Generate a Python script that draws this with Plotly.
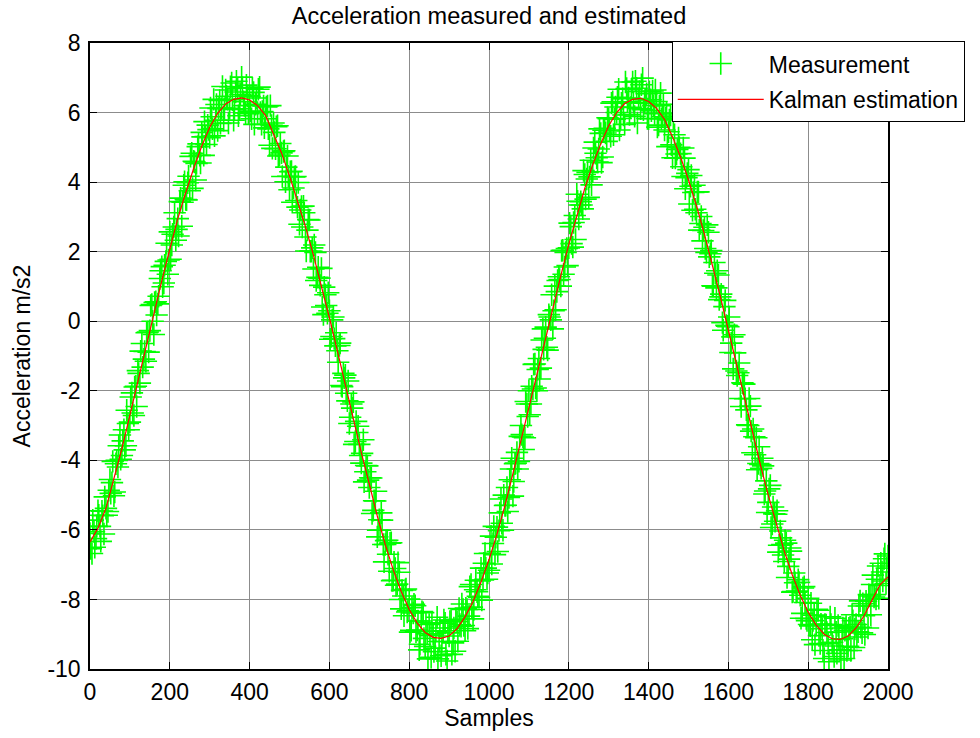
import plotly.graph_objects as go

# Kalman estimate, read every 20 samples
kal_x = list(range(0, 2001, 20))
kal_y = [
    -6.35, -5.95, -5.38, -4.52, -3.66, -2.70, -1.72, -0.75, 0.22, 1.17,
    2.07, 2.95, 3.70, 4.40, 5.03, 5.58, 5.98, 6.25, 6.38, 6.42,
    6.36, 6.20, 5.92, 5.40, 4.84, 4.18, 3.48, 2.72, 1.90, 1.02,
    0.10, -0.85, -1.85, -2.82, -3.78, -4.68, -5.60, -6.42, -7.15, -7.77,
    -8.29, -8.68, -8.95, -9.09, -9.12, -9.05, -8.84, -8.50, -8.06, -7.50,
    -6.86, -6.12, -5.30, -4.38, -3.42, -2.45, -1.50, -0.59, 0.38, 1.31,
    2.21, 3.05, 3.82, 4.50, 5.10, 5.62, 6.00, 6.26, 6.38, 6.41,
    6.32, 6.12, 5.80, 5.30, 4.72, 4.06, 3.32, 2.50, 1.62, 0.70,
    -0.26, -1.23, -2.21, -3.18, -4.12, -5.01, -5.85, -6.61, -7.29, -7.88,
    -8.37, -8.74, -9.00, -9.13, -9.15, -9.05, -8.82, -8.47, -8.02, -7.58,
    -7.35,
]

# Measurements, read at samples 0, 5, 10, ... 2000
meas_a_x = list(range(0, 2001, 5))
meas_a_y = [
    -6.10, -6.68, -6.05, -6.25, -5.45, -5.90, -5.46, -6.12, -5.38, -5.47, -4.55, -4.64, -5.02, -4.10, -4.19, -3.27, -3.86, -3.12, -3.58, -2.94,
    -2.90, -2.06, -2.71, -1.87, -1.42, -1.78, -0.64, -1.09, -1.15, -0.31, -0.27, 0.48, -0.38, 0.56, 0.50, 1.23, 1.57, 1.10, 1.72, 1.35,
    2.57, 2.19, 2.71, 2.33, 2.95, 3.44, 2.73, 3.91, 3.50, 3.98, 3.75, 4.83, 4.60, 4.06, 5.02, 4.77, 5.43, 4.77, 5.31, 5.64,
    5.28, 5.88, 6.38, 5.78, 5.48, 6.35, 6.12, 5.78, 6.65, 6.38, 6.12, 6.85, 5.78, 6.59, 6.70, 6.11, 7.02, 6.31, 5.99, 6.48,
    6.46, 5.82, 6.58, 6.24, 6.00, 6.73, 5.66, 6.19, 5.82, 6.19, 5.06, 5.63, 5.70, 4.96, 5.62, 4.78, 4.84, 4.88, 4.01, 4.75,
    3.78, 4.31, 3.83, 4.16, 3.28, 2.79, 3.30, 3.31, 2.42, 2.62, 2.91, 2.01, 1.50, 1.98, 1.26, 1.24, 1.52, 0.19, 0.76, 0.23,
    0.30, -0.44, 0.12, -0.71, -0.85, -0.70, -1.85, -1.50, -1.55, -2.29, -2.94, -2.38, -2.32, -3.46, -3.20, -3.54, -4.08, -3.41, -4.33, -4.16,
    -4.78, -4.51, -5.44, -5.17, -6.20, -5.71, -5.51, -6.42, -6.42, -6.30, -7.19, -6.37, -7.45, -7.11, -7.56, -7.22, -8.27, -7.90, -7.73, -8.36,
    -7.99, -8.89, -8.39, -8.18, -8.88, -9.45, -8.62, -8.38, -9.35, -8.99, -8.72, -9.66, -8.99, -9.40, -8.51, -9.21, -9.62, -8.90, -8.68, -9.77,
    -9.05, -8.60, -9.25, -9.49, -8.64, -8.26, -8.77, -8.29, -8.90, -8.29, -8.48, -7.57, -8.56, -7.72, -7.78, -7.94, -7.10, -7.44, -6.68, -7.42,
    -7.16, -6.18, -6.39, -6.71, -5.92, -6.02, -5.11, -6.01, -5.30, -4.78, -5.07, -4.25, -5.03, -4.10, -3.77, -4.03, -3.00, -3.33, -3.35, -2.38,
    -2.00, -2.38, -1.95, -1.23, -2.00, -1.07, -1.35, -0.22, -0.49, -0.75, 0.19, 0.04, -0.22, 1.01, 0.85, 1.28, 1.01, 2.04, 1.56, 2.09,
    2.11, 2.72, 2.13, 3.04, 3.65, 2.94, 3.44, 3.23, 4.22, 4.09, 3.56, 4.63, 4.30, 5.15, 4.70, 4.95, 5.40, 4.72, 5.55, 5.17,
    5.82, 5.32, 6.31, 5.81, 6.00, 6.67, 5.83, 6.40, 5.66, 6.69, 6.42, 6.15, 6.88, 5.89, 6.70, 6.40, 6.11, 6.99, 6.27, 6.54,
    5.82, 6.37, 6.62, 5.97, 6.32, 5.64, 6.56, 5.88, 5.50, 5.98, 5.45, 5.93, 4.70, 5.36, 4.81, 5.27, 4.82, 4.16, 4.69, 4.13,
    4.36, 3.88, 3.19, 3.91, 3.12, 3.72, 2.81, 2.31, 2.70, 1.98, 2.56, 1.94, 1.02, 1.69, 0.96, 1.33, 0.70, -0.04, 0.42, -0.12,
    -0.16, -0.90, -0.45, -0.39, -1.43, -1.48, -2.22, -1.77, -1.81, -2.55, -3.00, -2.44, -3.78, -3.32, -3.35, -4.09, -4.12, -3.94, -4.97, -4.59,
    -5.21, -4.72, -5.83, -5.54, -5.55, -6.64, -6.03, -6.42, -6.91, -6.38, -7.05, -6.52, -7.79, -7.24, -7.79, -7.43, -7.88, -8.40, -7.63, -8.55,
    -7.97, -8.76, -9.16, -8.45, -8.74, -8.31, -9.27, -8.84, -9.70, -8.73, -9.27, -8.50, -9.23, -9.64, -8.94, -8.75, -9.45, -9.13, -9.70, -8.78,
    -9.35, -8.80, -8.44, -9.38, -8.72, -8.93, -8.04, -8.96, -8.47, -8.05, -8.82, -7.90, -7.57, -7.93, -7.99, -7.04, -7.60, -7.21, -6.83, -7.54,
    -6.75,
]

# Measurements, read at samples 2, 7, 12, ... 1997
meas_b_x = list(range(2, 2000, 5))
meas_b_y = [
    -6.54, -5.72, -6.50, -5.90, -5.58, -6.33, -5.59, -5.05, -5.58, -4.86, -4.95, -4.03, -4.91, -4.00, -3.58, -3.97, -3.44, -3.70, -2.56, -3.12,
    -2.18, -2.64, -1.89, -2.45, -1.50, -0.86, -1.32, -0.87, -0.33, -0.89, 0.45, 0.00, 0.54, 0.18, 0.72, 1.45, 0.99, 1.61, 2.24, 1.76,
    1.78, 2.50, 3.12, 2.64, 2.45, 3.54, 3.42, 4.01, 3.49, 4.17, 4.74, 3.82, 4.58, 4.54, 5.10, 4.55, 5.30, 5.74, 5.08, 5.51,
    6.13, 5.53, 5.33, 6.23, 6.12, 5.69, 6.75, 6.12, 6.47, 5.70, 6.74, 6.37, 6.09, 6.90, 5.91, 6.52, 6.72, 6.20, 6.79, 5.97,
    6.04, 6.70, 5.66, 6.42, 6.67, 6.00, 6.03, 5.56, 6.16, 5.53, 6.20, 4.97, 5.43, 5.59, 4.75, 5.11, 4.16, 4.90, 4.43, 4.17,
    4.30, 3.42, 4.15, 3.47, 3.99, 3.20, 2.71, 3.12, 2.02, 2.92, 2.01, 2.11, 2.19, 1.17, 1.55, 1.03, 0.41, 0.98, 0.45, 0.82,
    -0.52, 0.04, -0.50, -0.33, -1.18, -0.63, -1.88, -1.63, -2.07, -1.72, -2.76, -2.50, -3.54, -2.88, -3.02, -3.86, -3.80, -4.62, -4.15, -4.57,
    -4.50, -5.53, -5.16, -4.89, -6.01, -6.01, -5.72, -6.92, -6.31, -6.70, -6.38, -7.46, -6.93, -7.59, -6.94, -8.00, -7.74, -8.47, -7.70, -8.33,
    -8.94, -8.24, -8.14, -8.93, -8.62, -9.29, -8.35, -9.12, -8.67, -9.71, -9.04, -8.68, -9.50, -8.91, -9.71, -8.82, -9.21, -8.59, -9.58, -8.96,
    -8.63, -9.58, -8.82, -8.57, -9.20, -8.72, -8.13, -8.75, -8.25, -8.84, -7.63, -8.22, -8.29, -7.45, -7.91, -7.47, -8.02, -6.96, -7.10, -7.24,
    -6.67, -6.98, -5.90, -6.21, -6.62, -5.51, -5.81, -5.00, -5.29, -5.47, -4.56, -3.94, -4.61, -4.08, -4.25, -3.31, -3.26, -3.69, -2.31, -2.74,
    -2.69, -1.87, -1.24, -1.92, -1.39, -1.66, -0.54, -0.81, -0.17, -0.83, 0.12, 0.76, 0.30, 0.33, 1.17, 1.20, 2.03, 1.35, 1.98, 1.60,
    2.82, 2.23, 2.84, 2.35, 3.45, 3.34, 3.34, 4.33, 3.51, 4.28, 4.15, 3.92, 4.98, 4.83, 4.58, 5.53, 4.56, 5.49, 5.41, 5.85,
    5.47, 6.27, 5.36, 6.16, 6.44, 5.50, 6.27, 5.93, 6.88, 6.31, 5.94, 6.67, 6.29, 6.90, 5.70, 6.61, 6.80, 6.08, 6.36, 5.83,
    6.60, 6.05, 6.20, 6.65, 5.58, 6.20, 5.82, 6.24, 5.84, 5.02, 5.79, 5.07, 5.83, 4.69, 4.94, 5.00, 4.44, 4.98, 3.81, 4.25,
    3.37, 4.19, 3.70, 3.22, 3.72, 2.62, 3.01, 2.61, 2.09, 2.77, 1.85, 2.03, 1.01, 1.38, 1.45, 0.62, 0.78, -0.26, 0.60, -0.14,
    0.12, -0.63, -1.37, -0.91, -1.56, -1.20, -2.45, -1.79, -2.23, -2.98, -2.22, -3.16, -3.10, -3.84, -4.27, -3.61, -4.23, -4.16, -4.88, -5.50,
    -4.82, -5.93, -5.34, -5.75, -5.45, -6.44, -6.23, -6.72, -6.30, -7.37, -6.84, -6.61, -7.77, -7.52, -7.76, -7.51, -8.54, -7.67, -8.09, -8.61,
    -8.72, -8.11, -8.61, -9.30, -8.28, -9.04, -8.71, -9.47, -8.72, -8.95, -9.79, -8.72, -9.34, -8.54, -9.55, -9.15, -9.74, -8.82, -8.89, -9.47,
    -8.83, -9.47, -8.61, -8.85, -9.08, -8.19, -8.80, -8.12, -9.01, -8.19, -7.86, -8.44, -7.30, -7.86, -7.42, -7.97, -6.96, -7.47, -6.69, -7.10,
]

x_ticks = list(range(0, 2001, 200))
y_ticks = list(range(-10, 9, 2))

FONT = "Liberation Sans, Arial, sans-serif"
GREEN = "#00FF00"

fig = go.Figure()
fig.add_trace(go.Scatter(
    x=meas_a_x + meas_b_x, y=meas_a_y + meas_b_y, mode="markers", name="Measurement",
    legendgroup="a",
    marker=dict(symbol="cross-thin", size=16, line=dict(color=GREEN, width=1.6), color=GREEN),
))
fig.add_trace(go.Scatter(
    x=kal_x, y=kal_y, mode="lines", name="Kalman estimation",
    legendgroup="b",
    line=dict(color="#FF0000", width=1.2),
))

axis_common = dict(
    showline=True, linecolor="black", linewidth=1.5, mirror="ticks",
    ticks="inside", ticklen=7, tickcolor="black", tickwidth=1,
    showgrid=True, gridcolor="#8c8c8c", gridwidth=1, zeroline=False,
    tickfont=dict(family=FONT, size=23, color="black"),
)

fig.update_layout(
    width=980, height=738,
    margin=dict(l=90, r=92, t=43, b=67),
    paper_bgcolor="white", plot_bgcolor="white",
    font=dict(family=FONT, color="black"),
    title=dict(text="Acceleration measured and estimated", x=0.5, xref="paper",
               y=1 - 16 / 738, yanchor="middle", font=dict(family=FONT, size=23.5)),
    xaxis=dict(range=[0, 2000], tickvals=x_ticks, ticktext=[str(v) for v in x_ticks],
               title=dict(text="Samples", font=dict(family=FONT, size=23), standoff=5),
               ticklabelstandoff=2, **axis_common),
    yaxis=dict(range=[-10, 8], tickvals=y_ticks, ticktext=[str(v) for v in y_ticks],
               title=dict(text="Acceleration m/s2", font=dict(family=FONT, size=23), standoff=10),
               ticklabelstandoff=3, **axis_common),
    legend=dict(x=0.729, y=1.003, xanchor="left", yanchor="top",
                bgcolor="white", bordercolor="black", borderwidth=1,
                font=dict(family=FONT, size=23), itemwidth=86, tracegroupgap=3),
    showlegend=True,
)

fig.write_html("out.html")
